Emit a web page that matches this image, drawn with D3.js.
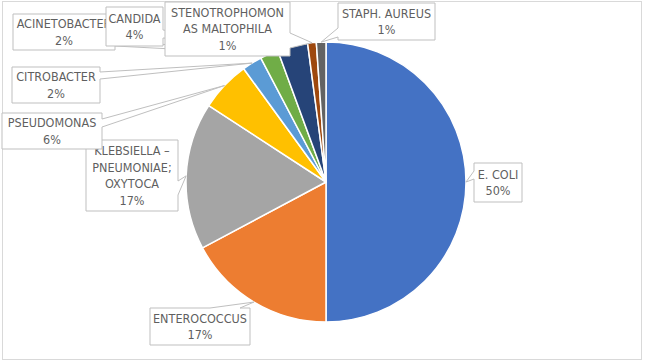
<!DOCTYPE html>
<html>
<head>
<meta charset="utf-8">
<script src="https://cdn.jsdelivr.net/npm/d3@7"></script>
<style>
  html, body { margin: 0; padding: 0; background: #fff; }
  svg { display: block; }
</style>
</head>
<body>
<svg id="chart"></svg>
<script>
// organism names, in slice order (clockwise from 12 o'clock)
const categories = [
  "E. COLI", "ENTEROCOCCUS", "KLEBSIELLA – PNEUMONIAE; OXYTOCA", "PSEUDOMONAS",
  "CITROBACTER", "ACINETOBACTER", "CANDIDA", "STENOTROPHOMONAS MALTOPHILA", "STAPH. AUREUS"
];
// share of isolates (%)
const values = [50.0, 17.2, 17.0, 5.8, 2.3, 2.1, 3.5, 1.0, 1.1];

// excel office palette
const colors = ["#4472c4", "#ed7d31", "#a5a5a5", "#ffc000", "#5b9bd5", "#70ad47", "#264478", "#9e480e", "#636363"];

// callout boxes: box rect, which side the pointer leaves from and where its base sits
const callouts = {
  "E. COLI": { x: 474, y: 163, w: 48, h: 39, side: "left", a: 171, b: 179 },
  "ENTEROCOCCUS": { x: 150, y: 308, w: 100, h: 37, side: "top", a: 210, b: 240 },
  "KLEBSIELLA – PNEUMONIAE; OXYTOCA": { x: 86, y: 140, w: 92, h: 71, side: "right", a: 181, b: 195,
    lines: ["KLEBSIELLA –", "PNEUMONIAE;", "OXYTOCA"] },
  "PSEUDOMONAS": { x: 2, y: 113, w: 100, h: 36, side: "right", a: 119, b: 127 },
  "CITROBACTER": { x: 12, y: 67, w: 88, h: 36, side: "right", a: 72, b: 79 },
  "ACINETOBACTER": { x: 13, y: 14, w: 102, h: 36, side: "right", a: 40, b: 46 },
  "CANDIDA": { x: 106, y: 7, w: 57, h: 39, side: "right", a: 30, b: 38 },
  "STENOTROPHOMONAS MALTOPHILA": { x: 165, y: 2, w: 125, h: 54, side: "right", a: 33, b: 48,
    lines: ["STENOTROPHOMON", "AS MALTOPHILA"] },
  "STAPH. AUREUS": { x: 338, y: 3, w: 97, h: 37, side: "left", a: 28, b: 37 }
};

const width = 650, height = 362;
const cx = 326, cy = 182, radius = 140;
const lineH = 16.5;

const svg = d3.select("#chart")
  .attr("width", width)
  .attr("height", height);

// chart area border
svg.append("rect")
  .attr("x", 2.5).attr("y", 1.5)
  .attr("width", 639).attr("height", 358)
  .attr("fill", "#fff")
  .attr("stroke", "#d9d9d9")
  .attr("stroke-width", 1);

const data = categories.map((c, i) => ({ name: c, value: values[i], color: colors[i] }));
const total = d3.sum(values);

const pie = d3.pie().sort(null).value(d => d.value);
const arcs = pie(data);

const arc = d3.arc().innerRadius(0).outerRadius(radius);
const tipArc = d3.arc().innerRadius(radius).outerRadius(radius);

const g = svg.append("g").attr("transform", "translate(" + cx + "," + cy + ")");

g.selectAll("path.slice")
  .data(arcs)
  .enter().append("path")
  .attr("class", "slice")
  .attr("d", arc)
  .attr("fill", d => d.data.color)
  .attr("stroke", "#fff")
  .attr("stroke-width", 1.5)
  .attr("stroke-linejoin", "round");

// box outline with the pointer wedge folded into one side
function calloutPath(c, tx, ty) {
  const x0 = c.x, y0 = c.y, x1 = c.x + c.w, y1 = c.y + c.h;
  if (c.side === "right")
    return `M${x0},${y0}H${x1}V${c.a}L${tx},${ty}L${x1},${c.b}V${y1}H${x0}Z`;
  if (c.side === "left")
    return `M${x0},${y0}H${x1}V${y1}H${x0}V${c.b}L${tx},${ty}L${x0},${c.a}Z`;
  if (c.side === "top")
    return `M${x0},${y0}H${c.a}L${tx},${ty}L${c.b},${y0}H${x1}V${y1}H${x0}Z`;
  return `M${x0},${y0}H${x1}V${y1}H${c.b}L${tx},${ty}L${c.a},${y1}H${x0}Z`;
}

const labels = svg.append("g");

arcs.forEach(d => {
  const c = callouts[d.data.name];
  const [px, py] = tipArc.centroid(d);
  const tx = cx + px, ty = cy + py;
  const lg = labels.append("g");

  lg.append("path")
    .attr("d", calloutPath(c, tx, ty))
    .attr("fill", "#fff")
    .attr("stroke", "#bfbfbf")
    .attr("stroke-width", 1)
    .attr("stroke-linejoin", "miter");

  const lines = (c.lines || [d.data.name]).concat([Math.round(d.data.value / total * 100) + "%"]);
  const y0 = c.y + c.h / 2 - (lines.length - 1) * lineH / 2;

  lg.append("text")
    .attr("text-anchor", "middle")
    .attr("font-family", "'Liberation Sans Narrow', 'DejaVu Sans Condensed', 'Liberation Sans', sans-serif")
    .attr("font-size", 12.5)
    .attr("fill", "#5f5f5f")
    .selectAll("tspan")
    .data(lines)
    .enter().append("tspan")
    .attr("x", c.x + c.w / 2)
    .attr("y", (t, i) => y0 + i * lineH)
    .attr("dy", "0.35em")
    .text(t => t);
});
</script>
</body>
</html>
